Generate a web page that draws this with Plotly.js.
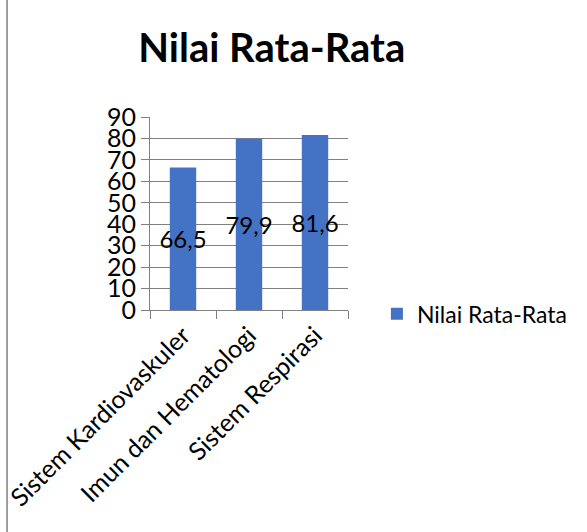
<!DOCTYPE html>
<html><head><meta charset="utf-8">
<script src="https://cdn.plot.ly/plotly-3.0.1.min.js"></script>
<style>html,body{margin:0;padding:0;background:#fff}#c{width:587px;height:532px}</style>
</head><body><div id="c"></div>
<script>
const categories = ["Sistem Kardiovaskuler", "Imun dan Hematologi", "Sistem Respirasi"];
const values = [66.5, 79.9, 81.6];
const valueLabels = ["66,5", "79,9", "81,6"];
const yTicks = [0, 10, 20, 30, 40, 50, 60, 70, 80, 90];
const seriesName = "Nilai Rata-Rata";
const FONT = "Lato, 'Open Sans', sans-serif";

const trace = {
  type: "bar", x: categories, y: values, name: seriesName,
  marker: {color: "#4472C4"},
  width: 0.4,
  text: valueLabels, textposition: "inside", insidetextanchor: "middle",
  constraintext: "none", textangle: 0,
  textfont: {family: FONT, size: 24, color: "#000"},
  hoverinfo: "none"
};
const layout = {
  width: 587, height: 532,
  margin: {l: 150, r: 239, t: 117, b: 222},
  paper_bgcolor: "#fff", plot_bgcolor: "#fff",
  title: {text: "<b>Nilai Rata-Rata</b>", font: {family: FONT, size: 40, color: "#000"},
          x: 0.463, xanchor: "center", y: 0.91, yanchor: "middle"},
  showlegend: true,
  legend: {x: 1.146, xanchor: "left", y: -0.02, yanchor: "middle",
           font: {family: FONT, size: 23, color: "#000"}},
  xaxis: {type: "category", tickangle: -45, tickson: "boundaries", ticks: "outside", ticklen: 8,
          tickcolor: "#808080", showline: true, linecolor: "#808080", linewidth: 1,
          tickfont: {family: FONT, size: 25, color: "#000"}, showgrid: false},
  yaxis: {range: [0, 90], tickvals: yTicks, ticks: "outside", ticklen: 8, tickcolor: "#808080",
          showline: true, linecolor: "#808080", gridcolor: "#808080", gridwidth: 1,
          tickfont: {family: FONT, size: 25, color: "#000"}, zeroline: false},
  shapes: [{type: "line", xref: "paper", yref: "paper", x0: -0.722, x1: -0.722, y0: -1.16, y1: 1.62,
            line: {color: "#808080", width: 1.5}}]
};
Plotly.newPlot("c", [trace], layout, {displayModeBar: false, staticPlot: true});
</script></body></html>
